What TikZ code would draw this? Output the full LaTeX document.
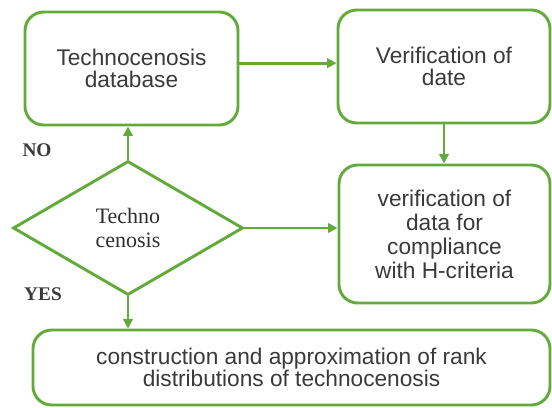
\documentclass[tikz,border=0pt]{standalone}
\usepackage{fontspec}
\setmainfont{Liberation Serif}
\newfontfamily\boxfont{Liberation Sans}
\usetikzlibrary{shapes.geometric,arrows.meta}
\definecolor{flowgreen}{RGB}{98,170,58}
\definecolor{flowtext}{RGB}{58,58,58}
\begin{document}
\begin{tikzpicture}[x=0.75pt,y=-0.75pt,
  >={Triangle[length=7pt,width=7pt]},
  flowbox/.style={draw=flowgreen,line width=2.2pt,rounded corners=14pt,fill=white,
    align=center,text=flowtext,font=\boxfont\fontsize{17}{17}\selectfont,inner sep=0pt},
  flowcheck/.style={draw=flowgreen,line width=2.2pt,diamond,inner sep=0pt,align=center,
    minimum width=172.5pt,minimum height=100.5pt,text=flowtext!80!black,font=\fontsize{16.5}{18}\selectfont},
  flowlabel/.style={text=flowtext,font=\bfseries\fontsize{14.5}{16}\selectfont},
  flowline/.style={draw=flowgreen,line width=2.2pt,->}]
\useasboundingbox (0,0) rectangle (552,407);

\node [flowbox,minimum width=159.75pt,minimum height=84.75pt] (base) at (131.5,68.5) {Technocenosis\\database};
\node [flowbox,minimum width=159pt,minimum height=84.75pt] (verdate) at (444,66.5) {Verification of\\date};
\node [flowbox,minimum width=158.25pt,minimum height=103.5pt,font=\boxfont\fontsize{17}{18}\selectfont] (vercrit) at (444.5,234) {verification of\\data for\\compliance\\with H-criteria};
\node [flowcheck] (check) at (128,228) {Techno\\cenosis};
\node [flowbox,minimum width=387.75pt,minimum height=56.25pt] (rank) at (291.5,367.5) {construction and approximation of rank\\distributions of technocenosis};

\node [flowlabel] (no) at (37,150) {NO};
\node [flowlabel] (yes) at (43,294) {YES};

\draw [flowline] ([yshift=4pt]base.east) -- ([yshift=4pt]base.east -| verdate.west);
\draw [flowline] (verdate.south) -- (verdate.south |- vercrit.north);
\draw [flowline] (check.north) -- (check.north |- base.south);
\draw [flowline] (check.east) -- (check.east -| vercrit.west);
\draw [flowline] (check.south) -- (check.south |- rank.north);

\end{tikzpicture}
\end{document}
